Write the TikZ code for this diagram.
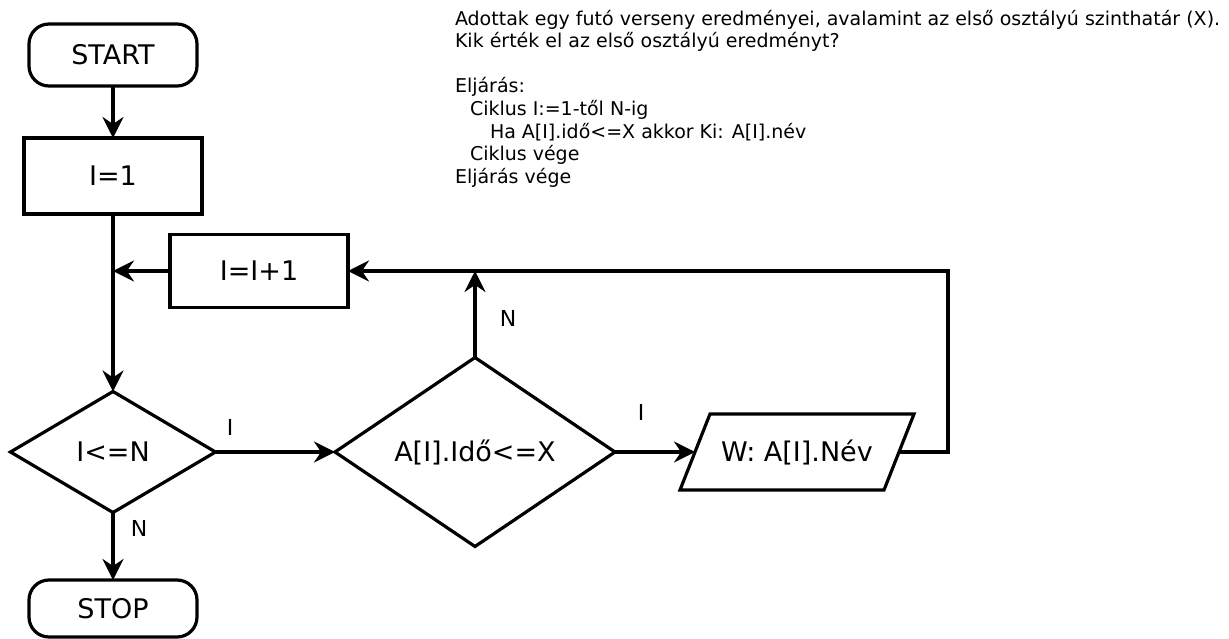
\documentclass[tikz,border=0pt]{standalone}
\usepackage{fontspec}
\setmainfont{DejaVu Sans}
\usetikzlibrary{shapes.geometric,arrows.meta,calc}
\begin{document}
\begin{tikzpicture}[x=1pt,y=-1pt,
  every node/.style={inner sep=0pt, outer sep=0pt},
  big/.style={font=\fontsize{27}{31}\selectfont},
  box/.style={draw, line width=3.2pt, minimum width=178pt, big},
  term/.style={draw, line width=3.2pt, rounded corners=20pt, minimum width=168pt, big},
  dec/.style={draw, diamond, line width=3.2pt, big},
  line/.style={line width=3.2pt},
  conn/.style={line width=3.2pt, -{Stealth[length=21pt,width=21pt,inset=7pt]}},
  lbl/.style={font=\fontsize{22}{25}\selectfont},
  desc/.style={font=\fontsize{19}{22.6}\selectfont, align=left, anchor=north west},
]
\useasboundingbox (0,0) rectangle (1229,639);

% description text
\node[desc] (txt) at (455,10) {Adottak egy futó verseny eredményei, avalamint az első osztályú szinthatár (X).\\
Kik érték el az első osztályú eredményt?\\
~\\
Eljárás:\\
\hspace*{15pt}Ciklus I:=1-től N-ig\\
\hspace*{35pt}Ha A[I].idő<=X akkor Ki: A[I].név\\
\hspace*{15pt}Ciklus vége\\
Eljárás vége};

% nodes
\node[term, minimum height=62pt] (start) at (113,55) {START};
\node[box, minimum height=76pt] (init) at (113,176) {I=1};
\node[box, minimum height=73pt] (inc) at (259,271) {I=I+1};
\node[dec, minimum width=205pt, minimum height=121pt] (c1) at (113,452) {I<=N};
\node[dec, minimum width=280pt, minimum height=189pt] (c2) at (475,452) {A[I].Idő<=X};
\node[big] (out) at (797,452) {W: A[I].Név};
\draw[line] ($(out)+(-117,38)$) -- ($(out)+(-87,-38)$) -- ($(out)+(117,-38)$) -- ($(out)+(87,38)$) -- cycle;
\coordinate (outL) at ($(out)+(-102,0)$);
\coordinate (outR) at ($(out)+(102,0)$);
\node[term, minimum height=57pt] (stop) at (113,608.5) {STOP};

% connectors
\coordinate (j) at (init.south |- inc.west);
\coordinate (rc) at (948,452);
\draw[conn] (start) -- (init);
\draw[line] (init.south) -- (j);
\draw[conn] (j) -- (c1.north);
\draw[conn] (inc.west) -- (j);
\draw[conn] (c1.east) -- (c2.west);
\draw[conn] (c2.north) -- (c2.north |- inc.east);
\draw[conn] (c2.east) -- (outL);
\draw[conn] (outR) -- (rc) |- (inc.east);
\draw[conn] (c1.south) -- (stop.north);

% labels
\node[lbl] (l1) at (230,427) {I};
\node[lbl] (l2) at (508,318) {N};
\node[lbl] (l3) at (641,412) {I};
\node[lbl] (l4) at (139,528) {N};
\end{tikzpicture}
\end{document}
